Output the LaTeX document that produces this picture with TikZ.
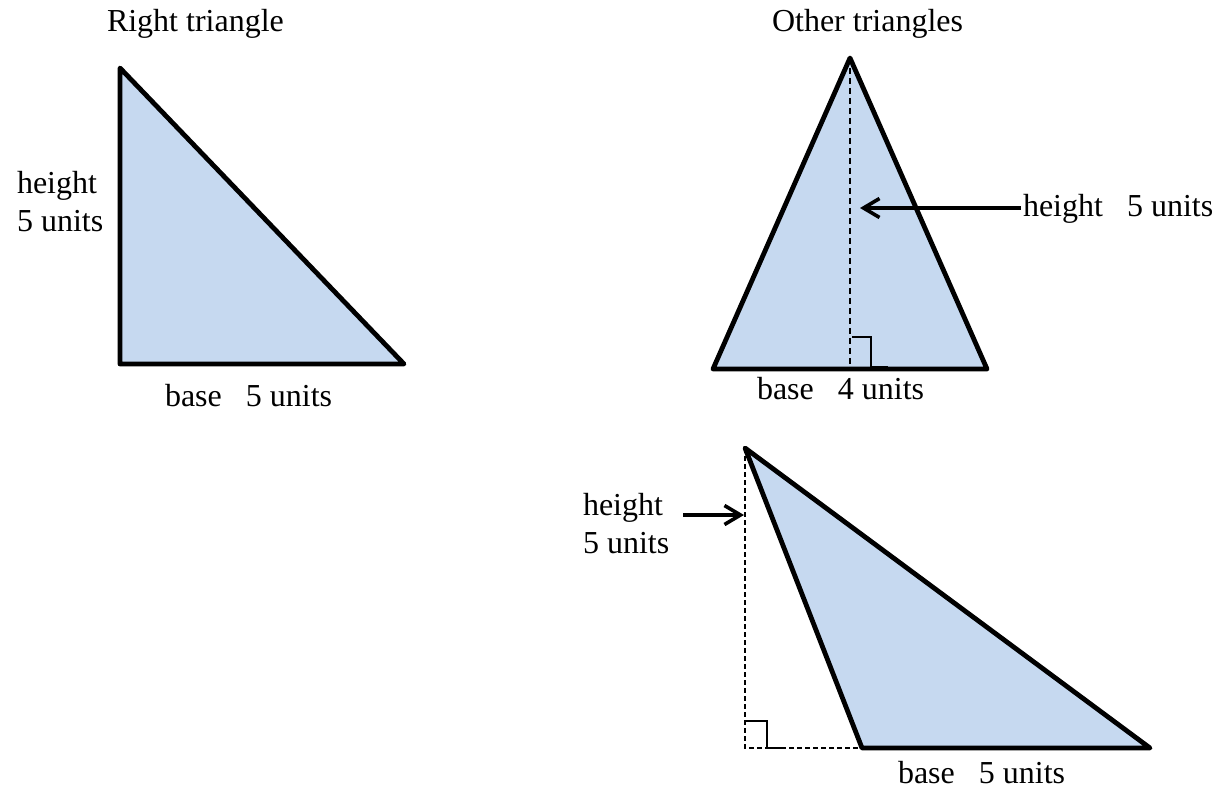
\documentclass[tikz,border=0pt]{standalone}
\usepackage{fontspec}
\setmainfont{Liberation Serif}
\usetikzlibrary{arrows.meta}
\definecolor{trifill}{RGB}{198,217,240}
\tikzset{
  tri/.style={draw=black, fill=trifill, line width=4.8pt, line join=round, line cap=round},
  lbl/.style={inner sep=0pt, outer sep=0pt, font=\fontsize{32}{38}\selectfont, align=left},
  hgt/.style={draw=black, line width=1.8pt, dash pattern=on 6pt off 4pt},
  hgtthin/.style={draw=black, line width=1.3pt, dash pattern=on 5pt off 3pt},
  rtmark/.style={draw=black, line width=2pt},
  pointer/.style={draw=black, line width=4pt, -{Straight Barb[length=16pt,width=19pt,line width=3.6pt]}}
}
\begin{document}
\begin{tikzpicture}[x=1pt,y=-1pt]
\useasboundingbox (0,0) rectangle (1221,789);
% ---------- right triangle ----------
\coordinate (A1) at (120,68);
\coordinate (B1) at (120,364);
\coordinate (C1) at (404,364);
\path[tri] (A1) -- (B1) -- (C1) -- cycle;
\node[lbl, anchor=base west] (t1) at (107,32) {Right triangle};
\node[lbl, anchor=base west] (h1) at (17,231) {height\\5 units};
\node[lbl, anchor=base west] (b1) at (165,406) {base\hspace{0.75em}5 units};
% ---------- isosceles triangle ----------
\coordinate (A2) at (850,58);
\coordinate (B2) at (713,369);
\coordinate (C2) at (987,369);
\coordinate (F2) at (850,367);
\coordinate (T2) at (850,68);
\path[tri] (A2) -- (B2) -- (C2) -- cycle;
\draw[hgt] (T2) -- (F2);
\draw[rtmark] (852,337) -- (871,337) -- (871,367) -- (888,367);
\node[lbl, anchor=base west] (t2) at (772,32) {Other triangles};
\node[lbl, anchor=base west] (h2) at (1023,216) {height\hspace{0.75em}5 units};
\coordinate (P2) at (860,208);
\coordinate (Q2) at (1021,208);
\draw[pointer] (Q2) -- (P2);
\node[lbl, anchor=base west] (b2) at (757,399) {base\hspace{0.75em}4 units};
% ---------- obtuse triangle ----------
\coordinate (A3) at (745,448);
\coordinate (B3) at (862,748);
\coordinate (C3) at (1150,748);
\coordinate (F3) at (745,748);
\path[tri] (A3) -- (B3) -- (C3) -- cycle;
\draw[hgtthin] (A3) -- (F3) -- (B3);
\draw[rtmark] (745,721) -- (767,721) -- (767,748) -- (786,748);
\node[lbl, anchor=base west] (h3) at (583,553) {height\\5 units};
\coordinate (P3) at (744,515);
\coordinate (Q3) at (683,515);
\draw[pointer] (Q3) -- (P3);
\node[lbl, anchor=base west] (b3) at (898,783) {base\hspace{0.75em}5 units};
\end{tikzpicture}
\end{document}
